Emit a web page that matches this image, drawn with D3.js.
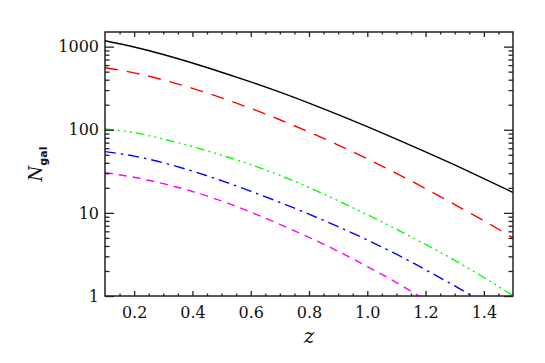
<!DOCTYPE html>
<html>
<head>
<meta charset="utf-8">
<script src="https://cdn.jsdelivr.net/npm/d3@7"></script>
<style>
  body { margin: 0; background: #fff; }
  svg { display: block; }
</style>
</head>
<body>
<div id="chart"></div>
<script>
// data
var zVals = [0.1, 0.2, 0.3, 0.4, 0.5, 0.6, 0.7, 0.8, 0.9, 1.0, 1.1, 1.2, 1.3, 1.4, 1.5];
var nBlack = [1180, 989, 804, 635, 492, 376, 283, 209, 152, 109, 77.3, 54.3, 37.8, 25.9, 17.6];
var nRed = [558, 484, 398, 315, 242, 181, 132, 94, 65.5, 44.7, 29.9, 19.6, 12.6, 8.04, 5.0];
var nGreen = [102, 92.3, 77.3, 62.7, 49.4, 38.0, 28.3, 20.2, 14.0, 9.51, 6.35, 4.17, 2.69, 1.67, 1.01];
var nBlue = [54.6, 48.2, 40.1, 31.8, 24.4, 18.2, 13.4, 9.64, 6.82, 4.72, 3.18, 2.07, 1.32, 0.83];
var nMagenta = [30.5, 26.8, 22.5, 18.1, 13.9, 10.2, 7.28, 5.08, 3.45, 2.26, 1.45, 0.89];

var xMajor = [0.2, 0.4, 0.6, 0.8, 1.0, 1.2, 1.4];
var yMajor = [1, 10, 100, 1000];

var series = [
  {vals: nBlack, color: "#000000", dash: null},
  {vals: nRed, color: "#ff0000", dash: "13,9"},
  {vals: nGreen, color: "#00ff00", dash: "9,4,2,4,2,4,2,4"},
  {vals: nBlue, color: "#0000ff", dash: "11,5,2.5,5"},
  {vals: nMagenta, color: "#ff00ff", dash: "8,6"}
];

var W = 545, H = 363;
var margin = {top: 32, right: 32, bottom: 67, left: 105};
var width = W - margin.left - margin.right,
    height = H - margin.top - margin.bottom;

var svg = d3.select("#chart").append("svg")
  .attr("width", W).attr("height", H);

var g = svg.append("g")
  .attr("transform", "translate(" + margin.left + "," + margin.top + ")");

var x = d3.scaleLinear().domain([0.1, 1.5]).range([0, width]);
var y = d3.scaleLog().domain([1, 1500]).range([height, 0]);

// minor tick positions
var xMinor = d3.range(3, 30, 1).map(function(i) { return i * 0.05; })
  .filter(function(v) { return v > 0.1 && v < 1.5 && xMajor.every(function(m) { return Math.abs(m - v) > 1e-6; }); });
var yMinor = [];
[1, 10, 100, 1000].forEach(function(d) {
  for (var k = 2; k <= 9; k++) { if (d * k < 1500) yMinor.push(d * k); }
});

g.append("clipPath").attr("id", "plot-clip")
  .append("rect").attr("width", width).attr("height", height);

var line = d3.line()
  .x(function(d) { return x(d[0]); })
  .y(function(d) { return y(d[1]); })
  .curve(d3.curveMonotoneX);

g.append("g").attr("clip-path", "url(#plot-clip)")
  .selectAll("path")
  .data(series)
  .enter().append("path")
  .attr("d", function(s) { return line(s.vals.map(function(v, i) { return [zVals[i], v]; })); })
  .attr("fill", "none")
  .attr("stroke", function(s) { return s.color; })
  .attr("stroke-width", 1.4)
  .attr("stroke-dasharray", function(s) { return s.dash; });

function styleAxis(sel) {
  sel.select(".domain").remove();
  sel.selectAll("line").attr("stroke", "#222").attr("stroke-width", 1.3);
  sel.selectAll("text").attr("fill", "#111")
    .attr("font-family", "DejaVu Serif").attr("font-size", "16px");
}

// bottom / top axes
g.append("g").attr("transform", "translate(0," + height + ")")
  .call(d3.axisBottom(x).tickValues(xMajor).tickSize(-5).tickPadding(11).tickFormat(d3.format(".1f")))
  .call(styleAxis);
g.append("g").attr("transform", "translate(0," + height + ")")
  .call(d3.axisBottom(x).tickValues(xMinor).tickSize(-2.5).tickFormat(""))
  .call(styleAxis);
g.append("g")
  .call(d3.axisTop(x).tickValues(xMajor).tickSize(-5).tickFormat(""))
  .call(styleAxis);
g.append("g")
  .call(d3.axisTop(x).tickValues(xMinor).tickSize(-2.5).tickFormat(""))
  .call(styleAxis);

// left / right axes
g.append("g")
  .call(d3.axisLeft(y).tickValues(yMajor).tickSize(-9).tickPadding(6).tickFormat(d3.format("d")))
  .call(styleAxis);
g.append("g")
  .call(d3.axisLeft(y).tickValues(yMinor).tickSize(-4.5).tickFormat(""))
  .call(styleAxis);
g.append("g").attr("transform", "translate(" + width + ",0)")
  .call(d3.axisRight(y).tickValues(yMajor).tickSize(-9).tickFormat(""))
  .call(styleAxis);
g.append("g").attr("transform", "translate(" + width + ",0)")
  .call(d3.axisRight(y).tickValues(yMinor).tickSize(-4.5).tickFormat(""))
  .call(styleAxis);

// frame
g.append("rect").attr("width", width).attr("height", height)
  .attr("fill", "none").attr("stroke", "#222").attr("stroke-width", 1.5);

// axis titles
g.append("text")
  .attr("x", width / 2).attr("y", height + 47)
  .attr("text-anchor", "middle")
  .attr("font-family", "DejaVu Serif").attr("font-style", "italic")
  .attr("font-size", "20px").attr("fill", "#111")
  .text("z");

var yt = svg.append("text")
  .attr("transform", "translate(42," + (margin.top + height / 2) + ") rotate(-90)")
  .attr("text-anchor", "middle")
  .attr("font-family", "DejaVu Serif").attr("fill", "#111");
yt.append("tspan").attr("font-style", "italic").attr("font-size", "18px").text("N");
yt.append("tspan").attr("font-family", "DejaVu Sans").attr("font-weight", "bold")
  .attr("font-size", "11px").attr("dy", 5).text("gal");
</script>
</body>
</html>
